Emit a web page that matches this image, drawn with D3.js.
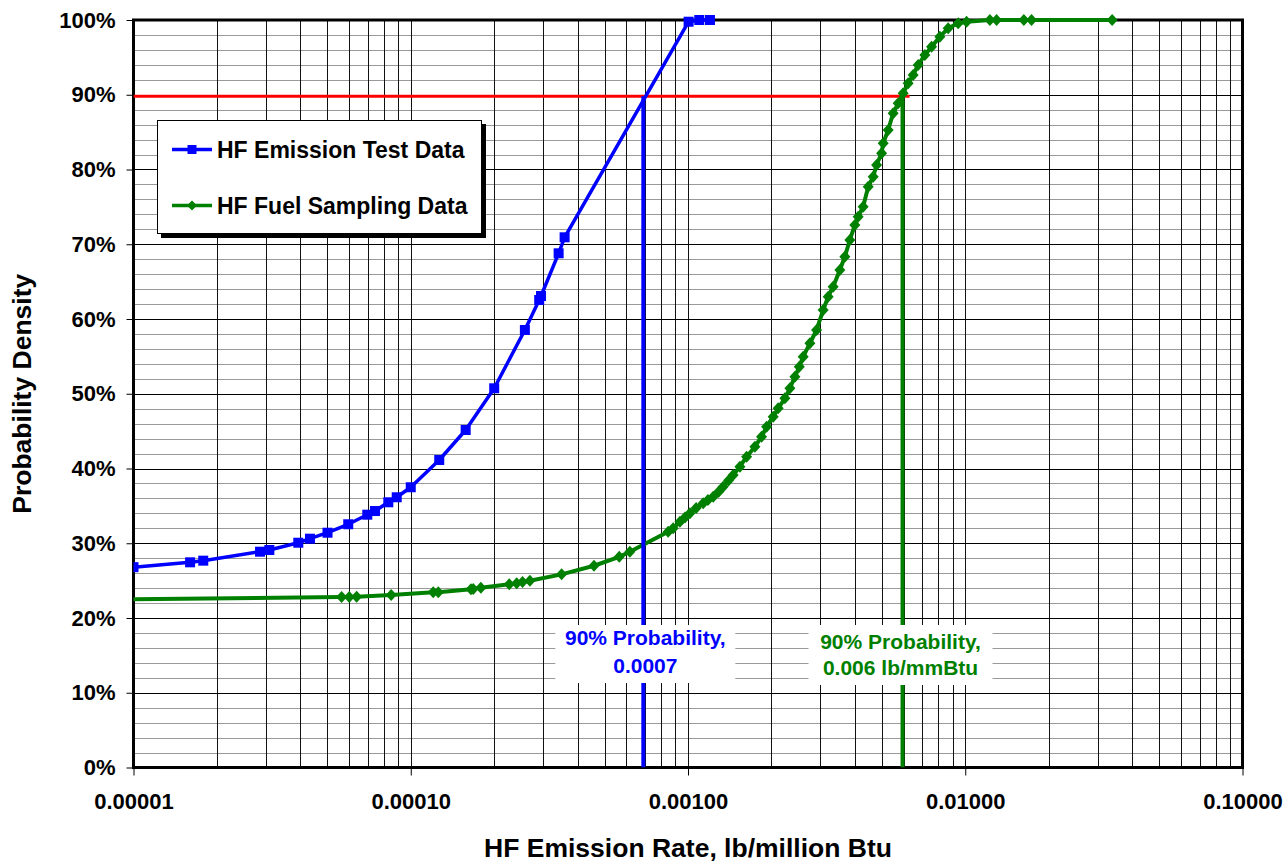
<!DOCTYPE html>
<html>
<head>
<meta charset="utf-8">
<script src="https://cdn.jsdelivr.net/npm/d3@7"></script>
<style>
  html, body { margin: 0; padding: 0; background: #fff; }
  svg { display: block; font-family: "Liberation Sans", Arial, sans-serif; }
</style>
</head>
<body>
<svg id="chart" width="1288" height="865"></svg>
<script>
// ---------- DATA ----------
const seriesNames = ["HF Emission Test Data", "HF Fuel Sampling Data"];

// HF Emission Test Data (lb/million Btu, cumulative probability)
const emissionX = [1.0e-5, 1.60e-5, 1.785e-5, 2.86e-5, 3.09e-5, 3.93e-5, 4.33e-5, 5.01e-5, 5.95e-5,
  6.97e-5, 7.43e-5, 8.30e-5, 8.90e-5, 1.0e-4, 1.267e-4, 1.578e-4, 2.0e-4, 2.58e-4, 2.906e-4,
  2.95e-4, 3.415e-4, 3.589e-4, 1.005e-3, 1.098e-3, 1.2e-3];
const emissionP = [0.268, 0.2745, 0.2767, 0.2887, 0.291, 0.3007, 0.3061, 0.3141, 0.3254,
  0.3382, 0.3431, 0.3548, 0.3615, 0.3749, 0.4114, 0.4515, 0.5073, 0.5853, 0.6254,
  0.6308, 0.6879, 0.7093, 0.9977, 1.0, 1.0];

// HF Fuel Sampling Data
const fuelX = [8.0e-6, 5.63e-5, 6.00e-5, 6.38e-5, 8.50e-5, 1.205e-4, 1.257e-4, 1.649e-4, 1.68e-4,
  1.79e-4, 2.266e-4, 2.41e-4, 2.53e-4, 2.69e-4, 3.50e-4, 4.58e-4, 5.65e-4, 6.17e-4, 8.48e-4,
  8.84e-4, 9.35e-4, 9.75e-4, 1.016e-3, 1.07e-3, 1.134e-3, 1.18e-3, 1.233e-3, 1.29e-3, 1.339e-3,
  1.40e-3, 1.455e-3, 1.539e-3, 1.627e-3, 1.743e-3, 1.842e-3, 1.921e-3, 2.029e-3, 2.115e-3,
  2.236e-3, 2.331e-3, 2.430e-3, 2.52e-3, 2.603e-3, 2.752e-3, 2.909e-3, 3.073e-3, 3.203e-3,
  3.338e-3, 3.530e-3, 3.679e-3, 3.835e-3, 3.998e-3, 4.109e-3, 4.283e-3, 4.467e-3, 4.656e-3,
  4.788e-3, 4.992e-3, 5.058e-3, 5.272e-3, 5.495e-3, 5.728e-3, 5.970e-3, 6.224e-3, 6.488e-3,
  6.763e-3, 7.150e-3, 7.560e-3, 8.100e-3, 8.677e-3, 9.428e-3, 1.011e-2, 1.227e-2, 1.297e-2,
  1.627e-2, 1.734e-2, 3.387e-2];
const fuelP = [0.2248, 0.2281, 0.2281, 0.2285, 0.2308, 0.2343, 0.2345, 0.2385, 0.2389,
  0.2406, 0.2451, 0.2465, 0.2481, 0.2499, 0.2584, 0.2699, 0.2819, 0.2886, 0.3154,
  0.3199, 0.3288, 0.3345, 0.3401, 0.347, 0.3535, 0.358, 0.3623, 0.369, 0.3757,
  0.384, 0.3913, 0.4024, 0.4158, 0.4292, 0.4425, 0.4559, 0.4693, 0.4805,
  0.4939, 0.5073, 0.5228, 0.536, 0.5496, 0.5675, 0.5853, 0.612, 0.6298,
  0.6432, 0.6656, 0.6834, 0.7057, 0.7258, 0.7369, 0.7502, 0.777, 0.7904,
  0.806, 0.8217, 0.835, 0.8528, 0.8752, 0.8886, 0.9019, 0.9153, 0.9264,
  0.9398, 0.9532, 0.9643, 0.9777, 0.9889, 0.9956, 0.9977, 1.0, 1.0,
  1.0, 1.0, 1.0];

// 90% reference lines
const refLevel = 0.898;
const refEmissionX = 0.00069;
const refFuelX = 0.00594;
const refLineEndX = 0.0063;
const annotEmission = ["90% Probability,", "0.0007"];
const annotFuel = ["90% Probability,", "0.006 lb/mmBtu"];

// Axes
const xDomain = [1e-5, 1e-1];
const xTickValues = [1e-5, 1e-4, 1e-3, 1e-2, 1e-1];
const xTickLabels = ["0.00001", "0.00010", "0.00100", "0.01000", "0.10000"];
const yTickValues = [0, 0.1, 0.2, 0.3, 0.4, 0.5, 0.6, 0.7, 0.8, 0.9, 1.0];
const yTickLabels = ["0%", "10%", "20%", "30%", "40%", "50%", "60%", "70%", "80%", "90%", "100%"];
const xTitle = "HF Emission Rate, lb/million Btu";
const yTitle = "Probability Density";

// ---------- DRAW ----------
const svg = d3.select("#chart");
const L = 133.5, R = 1242.5, T = 20, B = 767.5;
const x = d3.scaleLog().domain(xDomain).range([L, R]);
const y = d3.scaleLinear().domain([0, 1]).range([B, T]);

const BLUE = "#0000ff", GREEN = "#008000", RED = "#ff0000";

svg.append("defs").append("clipPath").attr("id", "plotclip")
  .append("rect").attr("x", L).attr("y", T - 8).attr("width", R - L + 8).attr("height", B - T + 8);

// gridlines - horizontal minor every 2%
const hMinor = d3.range(0, 101, 2).map(d => d / 100).filter(d => Math.round(d * 100) % 10 !== 0);
const grid = svg.append("g").attr("shape-rendering", "crispEdges");
grid.selectAll("line.hmin").data(hMinor).enter().append("line")
  .attr("x1", L).attr("x2", R).attr("y1", d => Math.round(y(d)) + 0.5).attr("y2", d => Math.round(y(d)) + 0.5)
  .attr("stroke", "#9a9a9a").attr("stroke-width", 1);
// vertical minor/major
const vLines = [];
for (let e = -5; e < -1; e++) for (let m = 1; m <= 9; m++) vLines.push(m * Math.pow(10, e));
vLines.push(1e-1);
grid.selectAll("line.v").data(vLines).enter().append("line")
  .attr("x1", d => Math.round(x(d)) + 0.5).attr("x2", d => Math.round(x(d)) + 0.5)
  .attr("y1", T).attr("y2", B)
  .attr("stroke", "#111").attr("stroke-width", 1);
grid.selectAll("line.hmaj").data(yTickValues).enter().append("line")
  .attr("x1", L).attr("x2", R).attr("y1", d => Math.round(y(d)) + 0.5).attr("y2", d => Math.round(y(d)) + 0.5)
  .attr("stroke", "#000").attr("stroke-width", 1);

// axes
const yAxis = d3.axisLeft(y).tickValues(yTickValues).tickFormat((d, i) => yTickLabels[i]).tickSize(7).tickPadding(11);
const gy = svg.append("g").attr("transform", `translate(${L},0)`).call(yAxis);
gy.select(".domain").remove();
gy.selectAll("line").attr("stroke", "#000").attr("stroke-width", 1);
gy.selectAll("text").attr("font-size", 22).attr("font-weight", "bold").attr("fill", "#000")
  .attr("font-family", "'Liberation Sans', Arial, sans-serif");

const xAxis = d3.axisBottom(x).tickValues(xTickValues).tickFormat((d, i) => xTickLabels[i]).tickSize(8).tickPadding(18);
const gx = svg.append("g").attr("transform", `translate(0,${B})`).call(xAxis);
gx.select(".domain").remove();
gx.selectAll("line").attr("stroke", "#000").attr("stroke-width", 1);
gx.selectAll("text").attr("font-size", 22).attr("font-weight", "bold").attr("fill", "#000")
  .attr("font-family", "'Liberation Sans', Arial, sans-serif");

// plot border
svg.append("rect").attr("x", L).attr("y", T).attr("width", R - L).attr("height", B - T)
  .attr("fill", "none").attr("stroke", "#000").attr("stroke-width", 3);

// axis titles
svg.append("text").attr("x", (L + R) / 2).attr("y", 857).attr("text-anchor", "middle")
  .attr("font-size", 26.5).attr("font-weight", "bold").text(xTitle);
svg.append("text").attr("transform", `translate(31,${(T + B) / 2}) rotate(-90)`).attr("text-anchor", "middle")
  .attr("font-size", 26.5).attr("font-weight", "bold").text(yTitle);

// series
const plot = svg.append("g").attr("clip-path", "url(#plotclip)");
const line = d3.line().x(d => x(d[0])).y(d => y(d[1]));
const emission = emissionX.map((v, i) => [v, emissionP[i]]);
const fuel = fuelX.map((v, i) => [v, fuelP[i]]);

// red 90% line
plot.append("path").datum([[xDomain[0], refLevel], [refLineEndX, refLevel]]).attr("d", line)
  .attr("stroke", RED).attr("stroke-width", 3).attr("fill", "none");

const diamondPath = "M0,-6L5.5,0L0,6L-5.5,0Z";
plot.append("path").datum(fuel).attr("d", line).attr("fill", "none")
  .attr("stroke", GREEN).attr("stroke-width", 4).attr("stroke-linejoin", "round");
plot.selectAll("path.fm").data(fuel).enter().append("path")
  .attr("transform", d => `translate(${x(d[0])},${y(d[1])})`).attr("d", diamondPath).attr("fill", GREEN);

plot.append("path").datum(emission).attr("d", line).attr("fill", "none")
  .attr("stroke", BLUE).attr("stroke-width", 3.5).attr("stroke-linejoin", "round");
plot.selectAll("rect.em").data(emission).enter().append("rect")
  .attr("x", d => x(d[0]) - 5).attr("y", d => y(d[1]) - 5).attr("width", 10).attr("height", 10).attr("fill", BLUE);

// vertical 90% lines
plot.append("path").datum([[refEmissionX, 0], [refEmissionX, refLevel]]).attr("d", line)
  .attr("stroke", BLUE).attr("stroke-width", 4).attr("fill", "none");
plot.append("path").datum([[refFuelX, 0], [refFuelX, refLevel]]).attr("d", line)
  .attr("stroke", GREEN).attr("stroke-width", 4).attr("fill", "none");

// annotations
function annot(cx, top, w, h, lines, color, base1, base2) {
  const g = svg.append("g");
  g.append("rect").attr("x", cx - w / 2).attr("y", top).attr("width", w).attr("height", h).attr("fill", "#fff");
  g.append("text").attr("x", cx).attr("y", base1).attr("text-anchor", "middle").attr("font-size", 21)
    .attr("font-weight", "bold").attr("fill", color).text(lines[0]);
  g.append("text").attr("x", cx).attr("y", base2).attr("text-anchor", "middle").attr("font-size", 21)
    .attr("font-weight", "bold").attr("fill", color).text(lines[1]);
}
annot(x(refEmissionX) + 2, 625, 180, 58, annotEmission, BLUE, 645, 673);
annot(x(refFuelX) - 2, 625, 184, 60, annotFuel, GREEN, 649, 675);

// legend
const lg = svg.append("g");
lg.append("rect").attr("x", 161).attr("y", 124).attr("width", 325).attr("height", 114).attr("fill", "#000");
lg.append("rect").attr("x", 157.5).attr("y", 120.5).attr("width", 324).attr("height", 113)
  .attr("fill", "#fff").attr("stroke", "#000").attr("stroke-width", 1);
const legendItems = [
  { name: seriesNames[0], color: BLUE, y: 149.5, marker: "square" },
  { name: seriesNames[1], color: GREEN, y: 205.5, marker: "diamond" }
];
legendItems.forEach(it => {
  lg.append("line").attr("x1", 172).attr("x2", 212).attr("y1", it.y).attr("y2", it.y)
    .attr("stroke", it.color).attr("stroke-width", 3.5);
  if (it.marker === "square") {
    lg.append("rect").attr("x", 187.5).attr("y", it.y - 4.5).attr("width", 9).attr("height", 9).attr("fill", it.color);
  } else {
    lg.append("path").attr("transform", `translate(192,${it.y})`).attr("d", "M0,-5L5,0L0,5L-5,0Z").attr("fill", it.color);
  }
  lg.append("text").attr("x", 217).attr("y", it.y + 8.5).attr("font-size", 23).attr("font-weight", "bold")
    .attr("fill", "#000").text(it.name);
});
</script>
</body>
</html>
